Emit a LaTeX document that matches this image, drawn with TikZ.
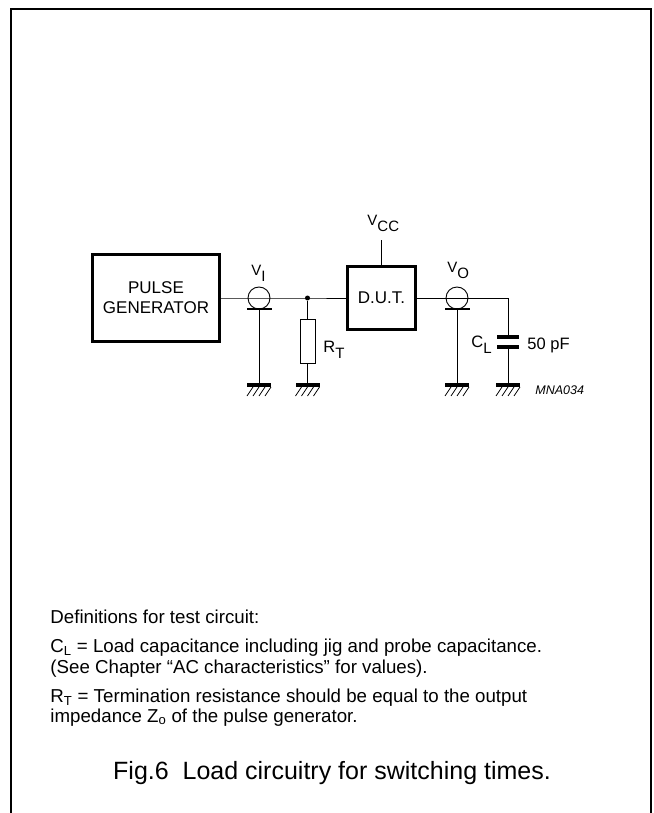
\documentclass[tikz,border=0pt]{standalone}
\usepackage{fontspec}
\setmainfont{Liberation Sans}
\newcommand{\lowsub}[1]{\raisebox{-6pt}{\fontsize{15}{15}\selectfont #1}}
\newcommand{\smallV}{{\fontsize{15}{15}\selectfont V}}
\tikzset{
  box/.style={draw, line width=3pt, align=center, font=\fontsize{17}{20}\selectfont},
  coax/.style={draw, circle, minimum size=22pt, inner sep=0pt},
  bar/.style={fill, minimum width=25pt, minimum height=1.2pt, inner sep=0pt},
  plate/.style={fill, minimum width=22pt, minimum height=3.8pt, inner sep=0pt},
  res/.style={draw, minimum width=15pt, minimum height=44pt, inner sep=0pt},
  lbl/.style={font=\fontsize{16.5}{16.5}\selectfont, anchor=base west, inner sep=0pt},
  txt/.style={font=\fontsize{18.7}{18.7}\selectfont, anchor=base west, inner sep=0pt},
  gnd/.pic={
    \node[fill, minimum width=24pt, minimum height=3.8pt, inner sep=0pt] (-top) at (0,0) {};
    \foreach \i in {0,...,3}
      \draw[line width=0.8pt] (-6+6*\i,2) -- (-12+6*\i,11);
  },
}
\begin{document}
\begin{tikzpicture}[x=1pt, y=-1pt, line width=0.9pt]
  \useasboundingbox (0,0) rectangle (653,813);
  \draw[line width=1.6pt] (11,813) -- (11,9) -- (651,9) -- (651,813);

  \draw (156,298) node[box, minimum width=127pt, minimum height=87pt](G) {PULSE\\GENERATOR};
  \draw (381.5,298) node[box, minimum width=68pt, minimum height=63pt](D) {D.U.T.};
  \draw (259,298) node[coax](CI) {};
  \draw (457,298) node[coax](CO) {};
  \draw (259,309) node[bar](BI) {};
  \draw (457,309) node[bar](BO) {};
  \draw (307.5,298) node[circle, fill, inner sep=0pt, minimum size=5pt](J) {};
  \draw (307.5,341) node[res](R) {};
  \draw (508,337) node[plate](P1) {};
  \draw (508,347) node[plate](P2) {};
  \coordinate (K) at (508,298);
  \coordinate (T) at (381.5,240);

  \pic (g1) at (259,385) {gnd};
  \pic (g2) at (307.5,385) {gnd};
  \pic (g3) at (457,385) {gnd};
  \pic (g4) at (508,385) {gnd};

  % wires
  \draw (G.east) -- (J.center) -- (D.west);
  \draw (D.east) -- (K) -- (P1);
  \draw (D.north) -- (T);
  \draw (J) -- (R.north);
  \draw (R.south) -- (g2-top);
  \draw (BI) -- (g1-top);
  \draw (BO) -- (g3-top);
  \draw (P2) -- (g4-top);

  % labels
  \draw (251,275) node[lbl](LI) {\smallV\lowsub{I}};
  \draw (447,272) node[lbl](LO) {\smallV\lowsub{O}};
  \draw (367,225) node[lbl](LCC) {\smallV\lowsub{CC}};
  \draw (323,352) node[lbl](LT) {R\lowsub{T}};
  \draw (471,347) node[lbl](LL) {C\lowsub{L}};
  \draw (527,349) node[lbl](LV) {50 pF};
  \draw (535,394) node[lbl, font=\fontsize{12.5}{12.5}\selectfont\itshape](ID) {MNA034};

  % notes
  \draw (50,623) node[txt](N1) {Definitions for test circuit:};
  \draw (50,652) node[txt](N2) {C\textsubscript{L} = Load capacitance including jig and probe capacitance.};
  \draw (50,673) node[txt](N3) {(See Chapter “AC characteristics” for values).};
  \draw (50,702) node[txt](N4) {R\textsubscript{T} = Termination resistance should be equal to the output};
  \draw (50,722) node[txt](N5) {impedance Z\textsubscript{o} of the pulse generator.};
  \draw (332,779) node[anchor=base, inner sep=0pt, font=\fontsize{25}{25}\selectfont](CAP) {Fig.6\ \ Load circuitry for switching times.};
\end{tikzpicture}
\end{document}
